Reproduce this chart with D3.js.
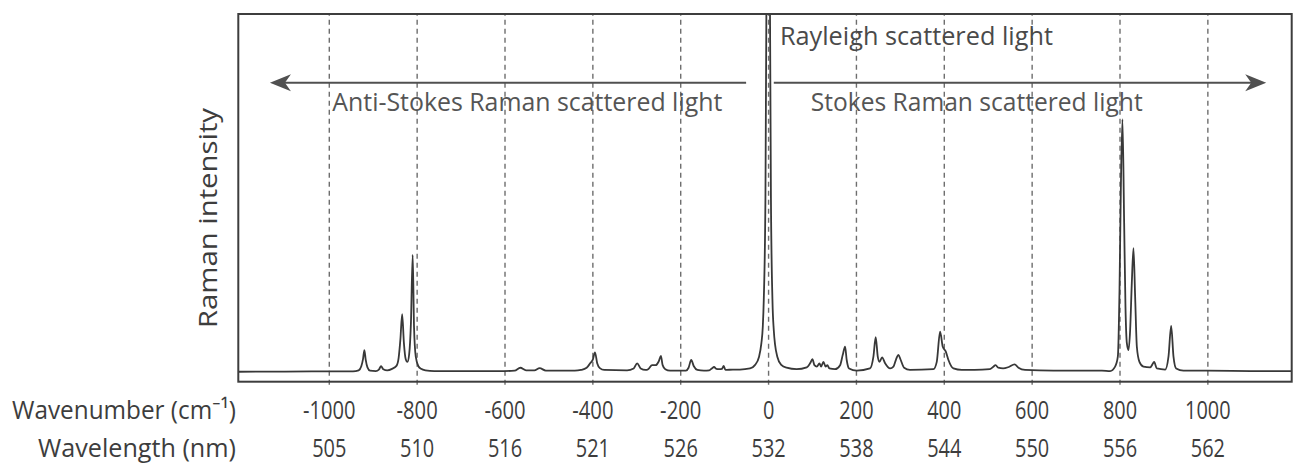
<!DOCTYPE html>
<html>
<head>
<meta charset="utf-8">
<script src="https://cdn.jsdelivr.net/npm/d3@7"></script>
<style>
  html, body { margin: 0; padding: 0; background: #fff; }
  svg { display: block; }
  text { font-family: "Open Sans", "Noto Sans", "DejaVu Sans", sans-serif; }
</style>
</head>
<body>
<svg id="chart" width="1301" height="468"></svg>
<script>
// Wavenumber shift (cm^-1) tick positions and the matching wavelengths (nm)
const wavenumberTicks = [-1000, -800, -600, -400, -200, 0, 200, 400, 600, 800, 1000];
const wavelengthTicks = [505, 510, 516, 521, 526, 532, 538, 544, 550, 556, 562];

// Raman spectrum trace: [wavenumber shift, intensity (a.u.)]
const spectrum = [
  [-1206, 2.7], [-1100, 2.75], [-1000, 2.8], [-945, 2.8], [-932, 3.1], [-926, 4.2],
  [-922, 6.2], [-919, 8.6], [-916, 6.0], [-912, 3.9], [-906, 3.0], [-893, 2.9],
  [-886, 3.3], [-881, 4.2], [-876, 3.4], [-867, 3.1], [-856, 3.5], [-846, 4.3],
  [-841, 6.5], [-837, 11.5], [-833, 18.4], [-829, 10.5], [-825, 6.2], [-821, 5.4],
  [-817, 7.5], [-813, 16], [-809, 34.5], [-806, 15], [-802, 6.8], [-796, 4.2],
  [-790, 3.5], [-780, 3.1], [-760, 2.9], [-600, 2.9], [-577, 3.0], [-564, 3.8],
  [-551, 3.1], [-532, 3.1], [-520, 3.7], [-506, 3.0], [-440, 3.0], [-426, 3.2],
  [-413, 3.8], [-405, 5.0], [-399, 6.0], [-394, 8.0], [-389, 5.0], [-383, 3.7],
  [-373, 3.2], [-321, 3.1], [-306, 3.6], [-298, 5.0], [-290, 3.6], [-279, 3.2],
  [-273, 3.4], [-264, 4.5], [-256, 4.5], [-249, 5.5], [-244, 7.0], [-240, 4.5],
  [-234, 3.4], [-223, 3.0], [-187, 3.0], [-181, 3.8], [-175, 5.9], [-169, 4.2],
  [-161, 3.2], [-146, 3.0], [-134, 3.1], [-128, 3.6], [-123, 4.0], [-118, 3.5],
  [-111, 3.4], [-105, 3.5], [-101, 4.3], [-97, 3.2], [-80, 3.3], [-64, 3.3],
  [-41, 3.6], [-30, 4.5], [-20.5, 6.8], [-15.3, 10.4], [-12, 15], [-9.8, 22.2],
  [-6, 50], [-3.9, 100], [0, 300], [4.4, 100], [6.5, 50], [10, 22], [13, 14],
  [16, 10], [21, 6.8], [30, 4.6], [42, 3.8], [65, 3.4], [88, 3.9], [95.6, 5.0],
  [101, 6.1], [105.5, 4.5], [111, 4.1], [117, 5.0], [120.7, 4.1], [126, 5.4],
  [131, 4.1], [135, 4.5], [139.6, 3.6], [152.5, 3.4], [164, 4.5], [170, 7.3],
  [175.3, 9.5], [179, 5.9], [184.4, 3.6], [202, 3.0], [232, 3.6], [239.8, 6.8],
  [245, 12.1], [249.7, 6.8], [253.5, 5.4], [259.6, 6.6], [266.4, 5.0], [277.8, 3.6],
  [285.4, 4.1], [291.4, 6.1], [296.8, 7.3], [302, 5.9], [309.7, 3.8], [323, 3.2],
  [376.4, 3.4], [384, 5.4], [391.6, 13.6], [397.7, 9.5], [404.6, 8.2], [410.6, 5.9],
  [422, 3.6], [441, 3.2], [470, 3.2], [505, 3.4], [512, 4.0], [518, 4.5],
  [524, 3.8], [535, 3.6], [548, 4.0], [561, 4.7], [570, 3.8], [585, 3.2],
  [650, 3.0], [760, 3.0], [778.7, 2.9], [790, 4.1], [796.2, 6.8], [800, 24.9],
  [803, 52], [806.7, 71.4], [810.6, 43], [813.6, 20.4], [816.8, 10.4], [820.5, 8.6],
  [824.2, 14], [828, 26.8], [831.8, 36.3], [835.6, 23.1], [839.5, 9.5], [845.4, 5.4],
  [854.5, 4.1], [869.8, 3.9], [874, 4.5], [878.9, 5.4], [885, 3.6], [904, 3.3],
  [911.5, 6.8], [917.6, 15.2], [922.9, 6.8], [929, 3.6], [945.6, 3.0], [1000, 3.0],
  [1100, 2.9], [1192, 2.9]
];

// Direction arrows in wavenumber units: [from, to]
const antiStokesArrow = [-50, -1134];
const stokesArrow = [13, 1134];

const svg = d3.select("#chart");
const box = { left: 238.3, right: 1291.7, top: 14, bottom: 381.7 };

const x = d3.scaleLinear().domain([-1206, 1192]).range([box.left, box.right]);
const y = d3.scaleLinear().domain([0, 100]).range([box.bottom, box.top]);

const textColor = "#4a4a4a";
const labelColor = "#3d3d3d";

// Dashed vertical grid lines at each wavenumber tick, poking just below the frame
const grid = svg.append("g")
  .attr("transform", `translate(0,${box.bottom + 3})`)
  .call(d3.axisBottom(x).tickValues(wavenumberTicks).tickSize(-(box.bottom + 3 - box.top)).tickFormat(""));
grid.select(".domain").remove();
grid.selectAll(".tick line")
  .attr("stroke", "#6e6e6e")
  .attr("stroke-width", 1.4)
  .attr("stroke-dasharray", "5,4");

// Clip region for the spectrum (the Rayleigh line runs off the top)
svg.append("clipPath").attr("id", "plot-clip")
  .append("rect")
  .attr("x", box.left).attr("y", box.top)
  .attr("width", box.right - box.left).attr("height", box.bottom - box.top);

const line = d3.line()
  .x(d => x(d[0]))
  .y(d => y(d[1]))
  .curve(d3.curveMonotoneX);

svg.append("path")
  .datum(spectrum)
  .attr("clip-path", "url(#plot-clip)")
  .attr("fill", "none")
  .attr("stroke", "#383838")
  .attr("stroke-width", 1.8)
  .attr("stroke-linejoin", "round")
  .attr("d", line);

// Frame
svg.append("rect")
  .attr("x", box.left).attr("y", box.top)
  .attr("width", box.right - box.left).attr("height", box.bottom - box.top)
  .attr("fill", "none")
  .attr("stroke", "#3d3d3d")
  .attr("stroke-width", 2);

// Arrows with notched heads
function arrow(span, yPix) {
  const x0 = x(span[0]), x1 = x(span[1]);
  const dir = Math.sign(x1 - x0);
  const g = svg.append("g").attr("fill", "#505050").attr("stroke", "#505050");
  g.append("line")
    .attr("x1", x0).attr("y1", yPix)
    .attr("x2", x1 - dir * 10).attr("y2", yPix)
    .attr("stroke-width", 2);
  g.append("path")
    .attr("stroke", "none")
    .attr("d", `M${x1},${yPix} L${x1 - dir * 21},${yPix - 8.5} L${x1 - dir * 15},${yPix} L${x1 - dir * 21},${yPix + 8.5} Z`);
}
arrow(antiStokesArrow, 82.7);
arrow(stokesArrow, 82.7);

// Annotations
function label(str, x0, yBase, width, anchor = "start", color = textColor) {
  return svg.append("text")
    .attr("x", x0).attr("y", yBase)
    .attr("text-anchor", anchor)
    .attr("font-size", 26)
    .attr("fill", color)
    .attr("textLength", width)
    .attr("lengthAdjust", "spacingAndGlyphs")
    .text(str);
}
label("Rayleigh scattered light", x(27), 45, 273);
label("Anti-Stokes Raman scattered light", x(-992), 110.5, 390, "start", "#555");
label("Stokes Raman scattered light", x(97), 110.5, 332, "start", "#555");

// Tick label rows drawn with axes at the grid positions
function tickWidth(s) {
  const str = String(s);
  const digits = str.replace("-", "").length;
  return digits * 11.4 + (str.startsWith("-") ? 7 : 0);
}
function tickRow(yBase, fmt) {
  const g = svg.append("g")
    .attr("transform", `translate(0,${yBase})`)
    .call(d3.axisBottom(x).tickValues(wavenumberTicks).tickSize(0).tickPadding(0).tickFormat(fmt));
  g.select(".domain").remove();
  g.selectAll(".tick text")
    .attr("y", 0).attr("dy", 0)
    .attr("font-family", "'Open Sans', 'Noto Sans', sans-serif")
    .attr("font-size", 26)
    .attr("fill", labelColor)
    .attr("lengthAdjust", "spacingAndGlyphs")
    .attr("textLength", function () { return tickWidth(this.textContent); });
  g.attr("font-family", null).attr("font-size", null);
}
tickRow(419, d => String(d));
tickRow(457, (d, i) => String(wavelengthTicks[i]));

// Row titles
label("Wavenumber (cm\u207B\u00B9)", 236, 419, 224, "end", labelColor);
label("Wavelength (nm)", 236, 457, 198, "end", labelColor);

// Vertical axis title
svg.append("text")
  .attr("transform", `translate(217,218) rotate(-90)`)
  .attr("text-anchor", "middle")
  .attr("font-size", 26)
  .attr("fill", labelColor)
  .attr("textLength", 220)
  .attr("lengthAdjust", "spacingAndGlyphs")
  .text("Raman intensity");
</script>
</body>
</html>
